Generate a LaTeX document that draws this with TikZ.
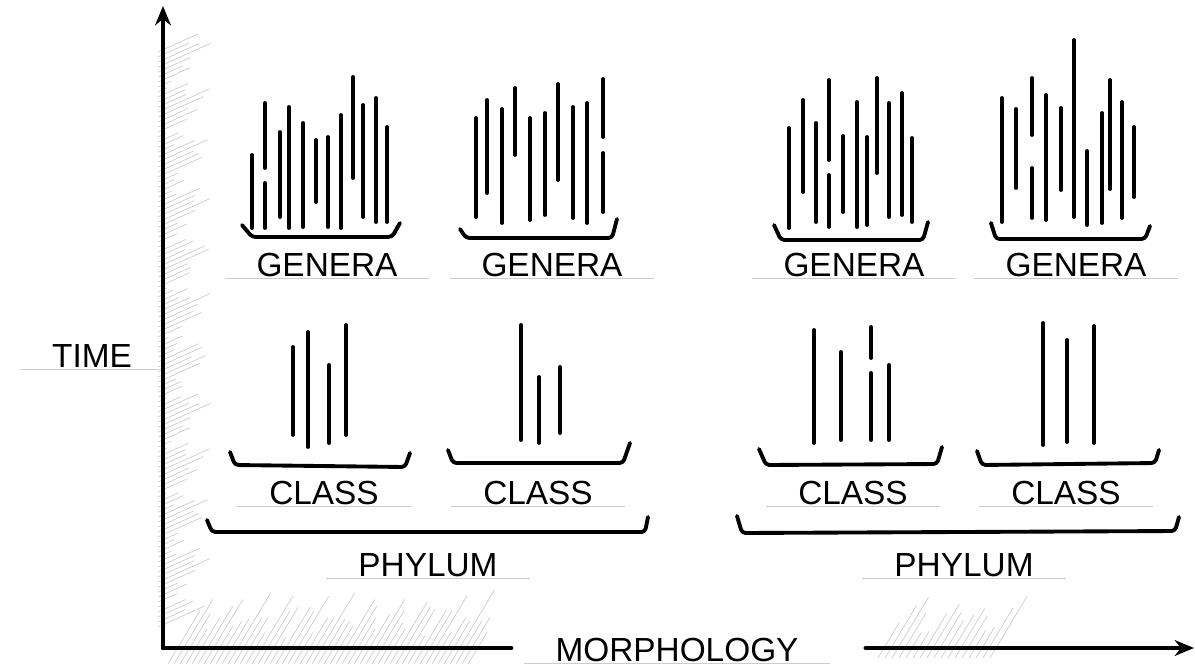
\documentclass[tikz,border=0pt]{standalone}
\usepackage{fontspec}
\setmainfont{Liberation Sans}
\usepackage{tikz}
\usetikzlibrary{arrows.meta}
\usetikzlibrary{calc}

\tikzset{
  stroke/.style={line width=2.2pt, line cap=round},
  bracket/.style={line width=2.2pt, line cap=round, line join=round, rounded corners=2pt},
  axis/.style={line width=2.4pt, line cap=round, >={Stealth[length=11pt,width=9pt]}},
  lettering/.style={font=\fontsize{19}{20}\selectfont, inner sep=0},
  pencil/.style={gray!40, line width=0.6pt},
  scribble/.style={gray!40, line width=0.4pt},
}

\begin{document}
\begin{tikzpicture}[x=0.02cm, y=-0.02cm]
\useasboundingbox (0,0) rectangle (1195,666);

% pencil shading along the axes
\foreach \y [evaluate=\y as \l using {30+14*sin(\y*7)+10*sin(\y*23)}] in {52,57,...,630} {
 \draw[scribble] (158,\y) --++ (\l,-0.45*\l);
}
\foreach \x [evaluate=\x as \l using {50+14*sin(\x*13)+10*sin(\x*29)}] in {168,174,...,470} {
 \draw[scribble] (\x,664) --++ (0.6*\l,-\l);
}
\foreach \x [evaluate=\x as \l using {42+12*sin(\x*11)+8*sin(\x*7)}] in {878,885,...,990} {
 \draw[scribble] (\x,658) --++ (0.6*\l,-\l);
}

% genera
\foreach \x/\a/\b in {252/155/228, 265/103/168, 265/183/228, 280/132/217, 289/107/228, 303/123/227, 316/140/202, 328/137/227, 341/115/228, 353/77/178, 363/105/217, 376/98/222, 387/127/222,
 476/118/217, 487/100/193, 502/109/223, 515/88/155, 530/118/220, 545/113/215, 558/84/180, 573/107/218, 587/103/223, 603/79/137, 603/153/212,
 789/128/228, 803/100/192, 816/123/222, 829/80/160, 829/175/227, 843/136/212, 857/102/227, 867/137/225, 877/78/173, 889/103/217, 902/93/215, 912/138/222,
 1002/98/222, 1016/109/188, 1032/78/135, 1032/168/218, 1046/95/220, 1061/108/190, 1074/40/217, 1087/151/225, 1102/113/223, 1110/80/189, 1122/102/218, 1134/127/197} {
 \draw[stroke] (\x,\a) -- (\x,\b);
}

% classes
\foreach \x/\a/\b in {293/347/435, 308/332/447, 329/365/443, 346/325/435, 521/325/440, 539/377/443, 560/367/433,
 814/330/443, 841/352/440, 871/327/358, 871/373/440, 889/365/440, 1043/323/445, 1067/340/442, 1094/326/443} {
 \draw[stroke] (\x,\a) -- (\x,\b);
}

% brackets
\draw[bracket] (242,225) -- (252,237) -- (392,237) -- (400,223);
\draw[bracket] (460,229) -- (466,238) -- (612,238) -- (617,219);
\draw[bracket] (774,225) -- (781,240) -- (923,240) -- (928,222);
\draw[bracket] (991,223) -- (996,239) -- (1145,239) -- (1150,226);
\draw[bracket] (230,452) -- (235,465) -- (405,467) -- (410,453);
\draw[bracket] (448,450) -- (453,463) -- (623,463) -- (630,443);
\draw[bracket] (759,449) -- (766,465) -- (937,464) -- (942,447);
\draw[bracket] (977,451) -- (982,465) -- (1155,463) -- (1159,450);
\draw[bracket] (207,520) -- (212,532) -- (645,532) -- (648,517);
\draw[bracket] (737,516) -- (742,533) -- (1175,531) -- (1179,517);

% labels
\foreach \n/\x in {g1/327, g2/552, g3/854, g4/1076} {
 \node[lettering] (\n) at (\x,265) {GENERA};
}
\foreach \n/\x in {c1/324, c2/538, c3/853, c4/1066} {
 \node[lettering] (\n) at (\x,493) {CLASS};
}
\node[lettering] (p1) at (428,565) {PHYLUM};
\node[lettering] (p2) at (964,565) {PHYLUM};
\node[lettering] (time) at (92,356) {TIME};
\node[lettering] (morph) at (677,650) {MORPHOLOGY};
\foreach \n in {g1,g2,g3,g4,c1,c2,c3,c4,p1,p2,time,morph} {
 \draw[pencil] ([shift={(-18pt,-1pt)}]\n.south west) -- ([shift={(18pt,-1pt)}]\n.south east);
}

% axes
\coordinate (O) at (163,648);
\coordinate (ytop) at (163,6);
\coordinate (xend) at (1194,648);
\draw[axis, ->] (O) -- (ytop);
\draw[axis] (O) -- ([xshift=-25pt]morph.west |- O);
\draw[axis, ->] ([xshift=38pt]morph.east |- O) -- (xend);
\end{tikzpicture}
\end{document}
